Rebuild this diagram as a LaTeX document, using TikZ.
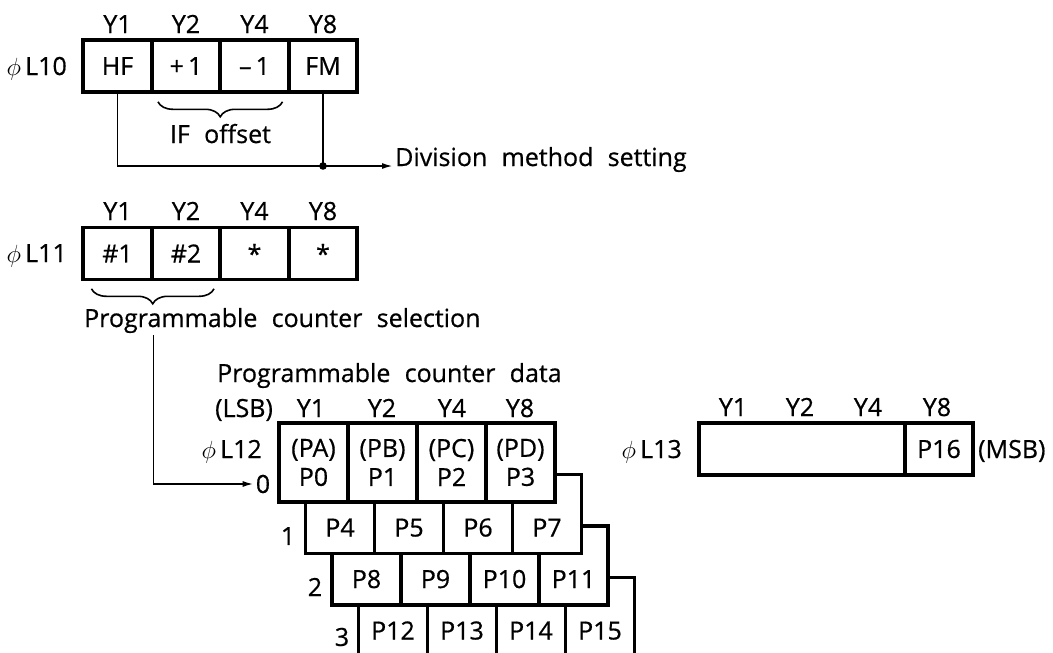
\documentclass[tikz,border=0pt]{standalone}
\usepackage{fontspec}
\setmainfont[WordSpace=2.2,FakeBold=0.6]{Open Sans}
\usetikzlibrary{arrows.meta, decorations.pathreplacing}
\newcommand{\phil}[1]{{\fontsize{27}{27}\selectfont$\phi$}\,L#1}

\begin{document}
\begin{tikzpicture}[x=1pt, y=-1pt,
  txt/.style={font=\fontsize{25}{29}\selectfont, inner sep=2pt},
  reg/.style={txt, draw, line width=3.6pt, fill=white, minimum width=68.5pt,
              minimum height=52pt, inner sep=0pt},
  card0/.style={reg, minimum width=69pt, minimum height=79pt, align=center},
  card/.style={reg, minimum width=69pt, text height=62pt, text depth=17pt},
  link/.style={line width=1.8pt},
  tip/.style={-{Latex[length=11pt, width=6pt]}},
  brc/.style={decorate, decoration={brace, mirror, amplitude=15pt}, line width=1.6pt},
]
\useasboundingbox (0,0) rectangle (1053,653);

% phi L10
\node[txt, anchor=base east] (l10) at (69,75) {\phil{10}};
\node[reg] (h1) at (117.5,66) {HF};
\node[reg] (h2) at (186,66) {+\,1};
\node[reg] (h3) at (254.5,66) {–\,1};
\node[reg] (h4) at (323,66) {FM};
\node[txt, anchor=base] (hy1) at (117.5,33) {Y1};
\node[txt, anchor=base] (hy2) at (186,33) {Y2};
\node[txt, anchor=base] (hy4) at (254.5,33) {Y4};
\node[txt, anchor=base] (hy8) at (323,33) {Y8};

\draw[brc] ([xshift=8pt, yshift=-8pt]h2.south west) -- ([xshift=-8pt, yshift=-8pt]h3.south east);
\node[txt, anchor=base] (ifo) at (220.5,143) {IF offset};

\node[txt, anchor=base west] (div) at (393,166) {Division method setting};
\draw[link, tip] (h1.south) |- (div.base west);
\draw[link] (h4.south) -- (h4.south |- div.base west);
\fill (h4.south |- div.base west) circle (3.8pt);

% phi L11
\node[txt, anchor=base east] (l11) at (69,262) {\phil{11}};
\node[reg] (s1) at (117.5,253.5) {\#1};
\node[reg] (s2) at (186,253.5) {\#2};
\node[reg] (s3) at (254.5,253.5) {*};
\node[reg] (s4) at (323,253.5) {*};
\node[txt, anchor=base] (sy1) at (117.5,220) {Y1};
\node[txt, anchor=base] (sy2) at (186,220) {Y2};
\node[txt, anchor=base] (sy4) at (254.5,220) {Y4};
\node[txt, anchor=base] (sy8) at (323,220) {Y8};

\draw[brc] ([xshift=10pt, yshift=-7.5pt]s1.south west) -- ([xshift=-8pt, yshift=-7.5pt]s2.south east);
\node[txt, anchor=base west] (sel) at (82,327) {Programmable counter selection};

% phi L12 -- rows drawn back to front
\node[txt, anchor=base west] (pcd) at (215,382) {Programmable counter data};
\node[txt, anchor=base west] (lsb) at (213,417) {(LSB)};
\node[txt, anchor=base east] (l12) at (264,458) {\phil{12}};

\node[card] (p12) at (393,617) {P12};
\node[card] (p13) at (462,617) {P13};
\node[card] (p14) at (531,617) {P14};
\node[card] (p15) at (600,617) {P15};

\node[card] (p8) at (366.5,565.5) {P8};
\node[card] (p9) at (435.5,565.5) {P9};
\node[card] (p10) at (504.5,565.5) {P10};
\node[card] (p11) at (573.5,565.5) {P11};

\node[card] (p4) at (340,514) {P4};
\node[card] (p5) at (409,514) {P5};
\node[card] (p6) at (478,514) {P6};
\node[card] (p7) at (547,514) {P7};

\node[card0] (p0) at (313.5,462.5) {(PA)\\P0};
\node[card0] (p1) at (382.5,462.5) {(PB)\\P1};
\node[card0] (p2) at (451.5,462.5) {(PC)\\P2};
\node[card0] (p3) at (520.5,462.5) {(PD)\\P3};

\node[txt, anchor=base] (py1) at (311,417) {Y1};
\node[txt, anchor=base] (py2) at (382,417) {Y2};
\node[txt, anchor=base] (py4) at (452,417) {Y4};
\node[txt, anchor=base] (py8) at (520,417) {Y8};

\node[txt] (n0) at (263,484) {0};
\node[txt] (n1) at (288,536) {1};
\node[txt] (n2) at (315,587) {2};
\node[txt] (n3) at (342,637) {3};

\draw[link, tip] (sel.south -| s1.east) |- (n0.west);

% phi L13
\node[txt, anchor=base east] (l13) at (684,458) {\phil{13}};
\node[reg, minimum width=206pt] (m1) at (802,449) {};
\node[reg] (m2) at (939,449) {P16};
\node[txt, anchor=base west] (msb) at (976,458) {(MSB)};
\node[txt, anchor=base] (my1) at (733,416) {Y1};
\node[txt, anchor=base] (my2) at (800,416) {Y2};
\node[txt, anchor=base] (my4) at (868,416) {Y4};
\node[txt, anchor=base] (my8) at (937,416) {Y8};

\end{tikzpicture}
\end{document}
